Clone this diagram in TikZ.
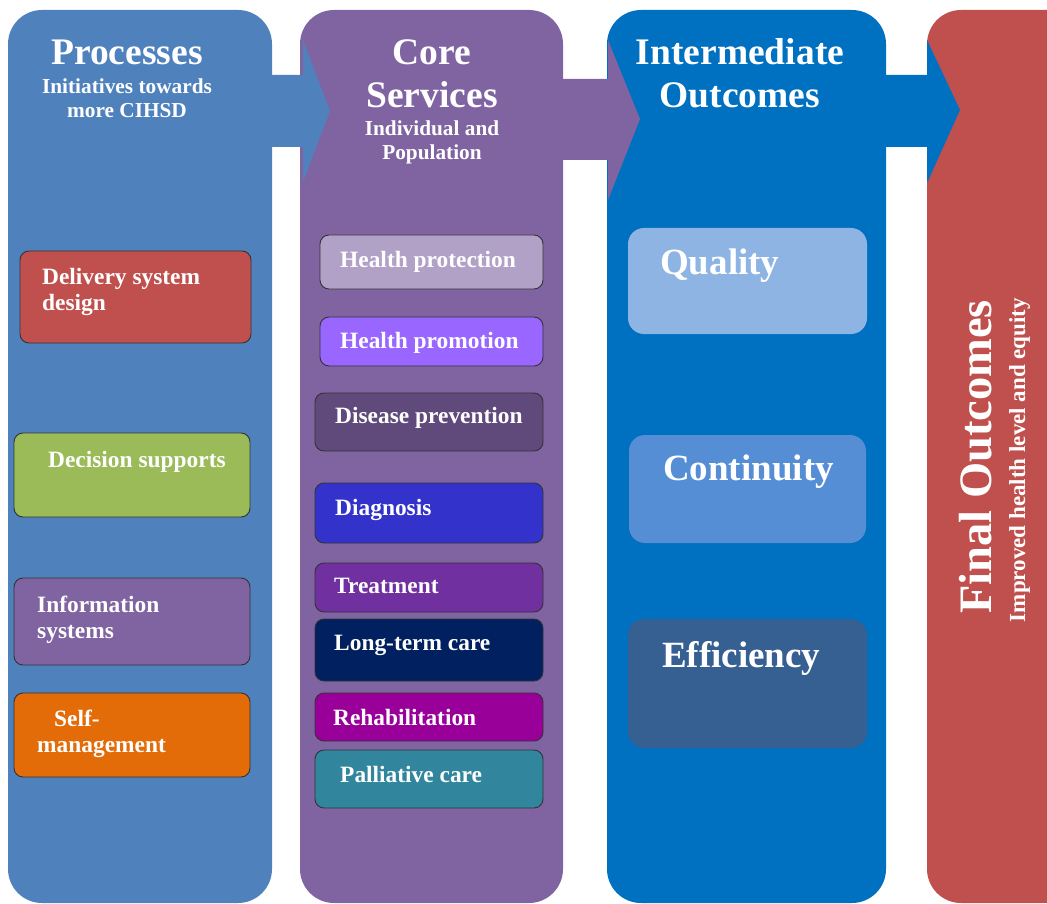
\documentclass[tikz,border=0pt]{standalone}
\usepackage{fontspec}
\setmainfont{Liberation Serif}

\definecolor{procblue}{HTML}{4F81BD}
\definecolor{corepurple}{HTML}{8064A2}
\definecolor{interblue}{HTML}{0070C0}
\definecolor{finalred}{HTML}{C0504D}
\definecolor{delivery}{HTML}{C0504D}
\definecolor{decision}{HTML}{9BBB59}
\definecolor{infosys}{HTML}{8064A2}
\definecolor{selfman}{HTML}{E36C09}
\definecolor{hprot}{HTML}{B2A1C7}
\definecolor{hprom}{HTML}{9966FF}
\definecolor{disprev}{HTML}{604A7B}
\definecolor{diagn}{HTML}{3333CC}
\definecolor{treat}{HTML}{7030A0}
\definecolor{longterm}{HTML}{002060}
\definecolor{rehab}{HTML}{990099}
\definecolor{palliat}{HTML}{31859C}
\definecolor{quality}{HTML}{8DB4E2}
\definecolor{continuity}{HTML}{558ED5}
\definecolor{efficiency}{HTML}{376092}

\begin{document}
\begin{tikzpicture}[x=1pt, y=-1pt,
    column/.style={rounded corners=34pt},
    item/.style={draw=black!80, line width=0.9pt, rounded corners=9pt},
    outcome/.style={rounded corners=16pt},
    label/.style={text=white, inner sep=0pt, anchor=base west, font=\bfseries\fontsize{23.4}{26}\selectfont},
    head/.style={text=white, inner sep=0pt, anchor=base, align=center, font=\bfseries\fontsize{37.5}{43}\selectfont},
    sub/.style={text=white, inner sep=0pt, anchor=base, align=center, font=\bfseries\fontsize{21.3}{24}\selectfont},
    big/.style={text=white, inner sep=0pt, anchor=base west, font=\bfseries\fontsize{37}{40}\selectfont}]

    \useasboundingbox (0,0) rectangle (1047,904);
    \clip (0,0) rectangle (1047,904);

    % columns and the arrows between them
    \fill[column, procblue] (8,10) rectangle (272,903);
    \fill[column, corepurple] (300,10) rectangle (563,903);
    \fill[procblue] (265,75) -- (303,75) -- (303,40) -- (330,111) -- (303,182) -- (303,147) -- (265,147) -- cycle;
    \fill[column, interblue] (607,10) rectangle (886,903);
    \fill[corepurple] (555,79) -- (608,79) -- (608,40) -- (640,119) -- (608,200) -- (608,160) -- (555,160) -- cycle;
    \fill[column, finalred] (927,10) rectangle (1090,903);
    \fill[interblue] (880,75) -- (927,75) -- (927,40) -- (960,110) -- (927,183) -- (927,147) -- (880,147) -- cycle;

    % headings (base = last line)
    \node[head] (proc) at (127,65) {Processes};
    \node[sub] (procsub) at (127,118) {Initiatives towards\\more CIHSD};
    \node[head] (core) at (432,108) {Core\\Services};
    \node[sub] (coresub) at (432,160) {Individual and\\Population};
    \node[head] (inter) at (740,108) {Intermediate\\Outcomes};

    % processes
    \draw[item, fill=delivery] (20,251) rectangle (251,343);
    \node[label, align=left] (deliv) at (42,310) {Delivery system\\design};
    \draw[item, fill=decision] (14,433) rectangle (250,517);
    \node[label] (decis) at (48,467) {Decision supports};
    \draw[item, fill=infosys] (14,578) rectangle (250,665);
    \node[label, align=left] (info) at (37,638) {Information\\systems};
    \draw[item, fill=selfman] (14,693) rectangle (250,777);
    \node[label, align=left] (self) at (37,752) {\hspace{17pt}Self-\\management};

    % core services
    \foreach[count=\i] \xl/\yt/\yb/\col/\tx/\ty/\txt in {
        320/235/289/hprot/340/268/Health protection,
        320/317/366/hprom/340/348/Health promotion,
        315/393/451/disprev/335/423/Disease prevention,
        315/483/543/diagn/335/515/Diagnosis,
        315/563/612/treat/334/593/Treatment,
        315/619/681/longterm/334/650/Long-term care,
        315/693/741/rehab/333/725/Rehabilitation,
        315/750/808/palliat/340/782/Palliative care} {
        \draw[item, fill=\col] (\xl,\yt) rectangle (543,\yb);
        \node[label] (core\i) at (\tx,\ty) {\txt};
    }

    % intermediate outcomes
    \fill[outcome, quality] (628,228) rectangle (867,334);
    \node[big] (qual) at (660,275) {Quality};
    \fill[outcome, continuity] (629,435) rectangle (866,543);
    \node[big] (cont) at (663,480) {Continuity};
    \fill[outcome, efficiency] (628,619) rectangle (867,748);
    \node[big] (effic) at (662,667) {Efficiency};

    % final outcomes
    \node[text=white, inner sep=0pt, rotate=90, anchor=base, font=\bfseries\fontsize{46.5}{50}\selectfont] (final) at (991,457) {Final Outcomes};
    \node[text=white, inner sep=0pt, rotate=90, anchor=base, font=\bfseries\fontsize{23}{26}\selectfont] (finalsub) at (1025,460) {Improved health level and equity};
\end{tikzpicture}
\end{document}
